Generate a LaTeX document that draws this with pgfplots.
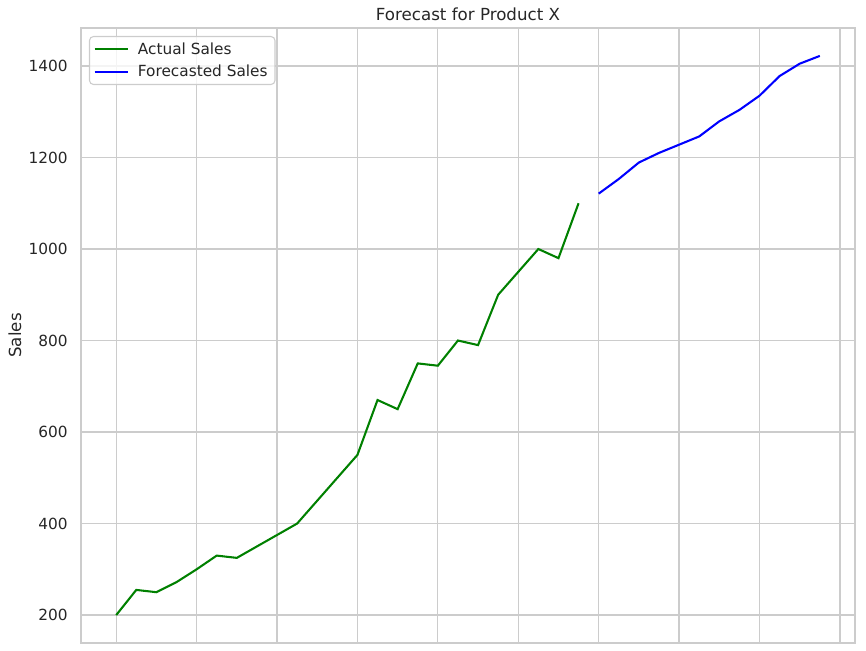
\documentclass[border=0pt]{standalone}
\usepackage{fontspec}
\setmainfont{DejaVu Sans}
\usepackage{pgfplots}
\pgfplotsset{compat=1.18}

\definecolor{gridgray}{HTML}{CCCCCC}
\definecolor{mplgreen}{HTML}{008000}
\definecolor{mplblue}{HTML}{0000FF}
\definecolor{textgray}{HTML}{262626}

\pgfplotstableread{
idx sales
0 200
1 255
2 250
3 272
4 300
5 330
6 325
7 350
8 375
9 400
10 450
11 500
12 550
13 670
14 650
15 750
16 745
17 800
18 790
19 900
20 950
21 1000
22 980
23 1100
}\actual

\pgfplotstableread{
idx sales
24 1121
25 1153
26 1189
27 1210
28 1228
29 1246
30 1279
31 1304
32 1335
33 1378
34 1405
35 1422
}\forecast

\begin{document}
\begin{tikzpicture}
\begin{axis}[
    name=ax,
    scale only axis,
    width=580.5pt, height=461.25pt,
    xmin=-1.75, xmax=36.75,
    ymin=139, ymax=1483,
    xtick={0,4,...,36},
    xticklabels={,,,,,,,,,},
    ytick={200,400,...,1400},
    major tick length=0pt,
    grid=major,
    major grid style={gridgray, line width=0.9pt},
    axis line style={gridgray, line width=1.2pt},
    tick label style={font=\fontsize{11.5pt}{13pt}\selectfont, text=textgray},
    yticklabel style={xshift=-6.5pt},
    /pgf/number format/assume math mode=true,
    /pgf/number format/1000 sep={},
    every axis title shift=0pt,
    title={Forecast for Product X},
    title style={font=\fontsize{12.5pt}{14pt}\selectfont, text=textgray,
        at={(axis description cs:0.5,1.0228)}, anchor=center, yshift=0pt},
    ylabel={Sales},
    ylabel style={font=\fontsize{12.5pt}{14pt}\selectfont, text=textgray,
        at={(axis description cs:-0.0853,0.5)}, anchor=center},
    legend cell align=left,
    legend style={at={(axis description cs:0.0103,0.987)}, anchor=north west,
        draw=gridgray, line width=0.8pt, rounded corners=3pt, fill=white, fill opacity=0.8, text opacity=1,
        font=\fontsize{11.5pt}{13pt}\selectfont, text=textgray,
        inner xsep=3pt, inner ysep=2pt,
        row sep=1.5pt, column sep=4.5pt,
        nodes={inner sep=2.5pt}},
    legend image code/.code={\draw[#1, line width=1.55pt] (0pt,0pt) -- (24.75pt,0pt);},
]
\addplot[mplgreen, line width=1.55pt] table[x=idx, y=sales] {\actual};
\addlegendentry{Actual Sales}
\addplot[mplblue, line width=1.55pt] table[x=idx, y=sales] {\forecast};
\addlegendentry{Forecasted Sales}
\end{axis}
\pgfresetboundingbox
\path ([shift={(-60.75pt,-6pt)}]ax.south west) rectangle ([shift={(8.25pt,21pt)}]ax.north east);
\end{tikzpicture}
\end{document}
